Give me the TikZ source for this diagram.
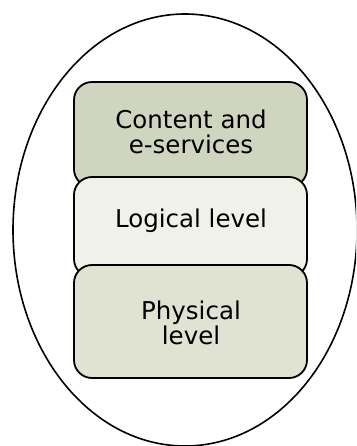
\documentclass[tikz,border=0pt]{standalone}
\usepackage{fontspec}
\setmainfont{DejaVu Sans}
\usepackage{xcolor}
\usetikzlibrary{positioning}

\definecolor{contentfill}{HTML}{D0D5C0}
\definecolor{logicalfill}{HTML}{F0F1E8}
\definecolor{physicalfill}{HTML}{E0E2D2}

\tikzset{
  levelbox/.style={draw=black, line width=1.8pt, rounded corners=18pt,
    minimum width=233pt, inner sep=0pt},
  leveltext/.style={align=center, font=\fontsize{24.5}{25}\selectfont}
}

\begin{document}
\begin{tikzpicture}[x=1pt, y=-1pt]
%%%%% Frame %%%%%
\useasboundingbox (0,0) rectangle (356,446);
\clip (0,0) rectangle (356,446);
\draw[line width=1.6pt] (185,230) ellipse [x radius=172, y radius=216];
%%%%% Levels %%%%%
\node[levelbox, fill=contentfill, minimum height=105pt] (content) at (190.5,134.5) {};
\node[levelbox, fill=logicalfill, minimum height=100pt] (logical) at (190.5,227) {};
\node[levelbox, fill=physicalfill, minimum height=113pt] (physical) at (190.5,321.5) {};
%%%%% Texts %%%%%
\node[leveltext] (contenttext) at (191,132) {Content and\\e-services};
\node[leveltext] (logicaltext) at (191,221) {Logical level};
\node[leveltext] (physicaltext) at (191,323) {Physical\\level};
\end{tikzpicture}
\end{document}
